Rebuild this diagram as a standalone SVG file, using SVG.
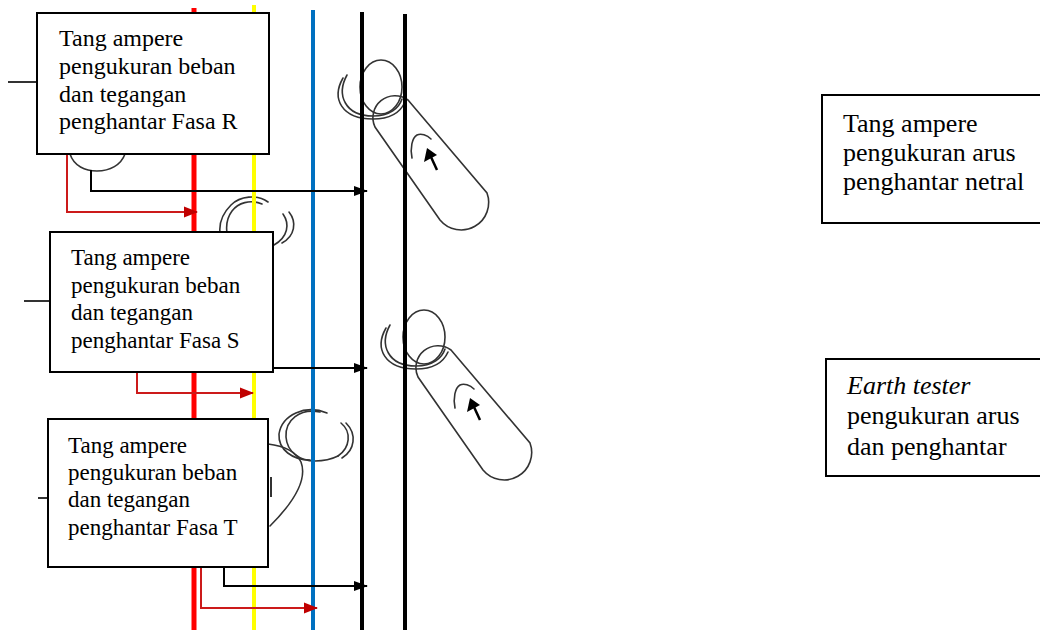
<svg xmlns="http://www.w3.org/2000/svg" xmlns:xlink="http://www.w3.org/1999/xlink" width="1040" height="630" viewBox="0 0 1040 630">
  <style>
    .box { fill: #ffffff; stroke: #000000; stroke-width: 2; }
    .lbl { font-family: "Liberation Serif", "Times New Roman", serif; font-size: 23px; fill: #000000; }
    .lbl-big { font-size: 24px; }
    .lbl-r { font-family: "Liberation Serif", "Times New Roman", serif; font-size: 26px; fill: #000000; }
    .stub { stroke: #333333; stroke-width: 2; fill: none; }
    .clamp { fill: none; stroke: #333333; stroke-width: 1.6; stroke-linecap: round; }
    .wire-red { stroke: #ff0000; stroke-width: 5; }
    .wire-yellow { stroke: #ffff00; stroke-width: 4; }
    .wire-blue { stroke: #0070c0; stroke-width: 4; }
    .wire-black { stroke: #000000; stroke-width: 4; }
    .conn-black { fill: none; stroke: #000000; stroke-width: 2; }
    .conn-red { fill: none; stroke: #cc1a1a; stroke-width: 2; }
  </style>
  <defs>
    <marker id="arrow-black" markerUnits="userSpaceOnUse" viewBox="0 0 14 12" markerWidth="14" markerHeight="12" refX="13" refY="6" orient="auto">
      <path d="M0,1 L14,6 L0,11 z" fill="#000000"/>
    </marker>
    <marker id="arrow-red" markerUnits="userSpaceOnUse" viewBox="0 0 14 12" markerWidth="14" markerHeight="12" refX="13" refY="6" orient="auto">
      <path d="M0,0.5 L14,6 L0,11.5 z" fill="#c00000"/>
    </marker>
    <!-- clamp meter on the neutral conductor: jaw ring, body and pointer -->
    <g id="neutral-meter">
      <ellipse class="clamp" cx="381" cy="87" rx="21" ry="27"/>
      <path class="clamp" d="M347,75 C336,95 345,116 373,116 C390,116 399,108 402,99"/>
      <path class="clamp" d="M343,78 C331,99 342,119 373,119 C392,119 401,111 405,102"/>
      <path class="clamp" d="M408,100 L487,193 A27.5,27.5 0 0 1 440,220 L375,127 A22,22 0 0 1 408,100 Z"/>
      <path class="clamp" d="M412,158 C410,148 412,138 417,135 C421,133 427,135 431,139"/>
      <path d="M427,148 L424,162 L437,155 Z" fill="#000000"/>
      <line x1="431" y1="157" x2="437" y2="170" stroke="#000000" stroke-width="2.5"/>
    </g>
  </defs>

  <rect width="1040" height="630" fill="#ffffff"/>

  <!-- clamp meters around the conductors -->
  <g id="clamps">
    <g id="clamp-r">
      <path class="clamp" d="M70,154 C74,166 85,171 97,171 C110,171 121,165 125,154"/>
    </g>
    <g id="clamp-s">
      <path class="clamp" d="M268,202 C257,194 240,196 231,205 C222,214 219,224 220,233"/>
      <path class="clamp" d="M262,204 C250,199 238,203 232,211 C226,219 226,226 227,233"/>
      <path class="clamp" d="M289,212 C297,222 295,236 282,243"/>
      <path class="clamp" d="M283,214 C290,224 288,237 274,245"/>
    </g>
    <g id="clamp-t">
      <path class="clamp" d="M327,413 C305,404 282,415 279,434 C278,450 293,460 310,460"/>
      <path class="clamp" d="M320,412 C300,408 285,420 286,437 C287,452 300,461 315,461 C324,461 332,459 338,456"/>
      <path class="clamp" d="M341,423 C352,432 350,448 338,456"/>
      <path class="clamp" d="M346,423 C357,434 355,450 342,458"/>
      <path class="clamp" d="M268,444 C285,446 296,452 301,462 C307,478 296,500 270,526"/>
      <line x1="271" y1="477" x2="271" y2="497" stroke="#333333" stroke-width="2"/>
    </g>
    <g id="clamp-n1">
      <use xlink:href="#neutral-meter"/>
    </g>
    <g id="clamp-n2">
      <use xlink:href="#neutral-meter" transform="translate(43,250)"/>
    </g>
  </g>

  <!-- conductors R, S, T, neutral and earth -->
  <g id="conductors">
    <line class="wire-red" x1="194" y1="8" x2="194" y2="630"/>
    <line class="wire-yellow" x1="254" y1="5" x2="254" y2="630"/>
    <line class="wire-blue" x1="313" y1="10" x2="313" y2="630"/>
    <line class="wire-black" x1="362" y1="12" x2="362" y2="630"/>
    <line class="wire-black" x1="405" y1="14" x2="405" y2="630"/>
  </g>

  <!-- measurement leads -->
  <g id="connectors">
    <path class="conn-black" d="M91,170 V191 H367" marker-end="url(#arrow-black)"/>
    <path class="conn-red" d="M67,154 V212 H197" marker-end="url(#arrow-red)"/>
    <path class="conn-black" d="M273,368 H367" marker-end="url(#arrow-black)"/>
    <path class="conn-red" d="M137,372 V393 H253" marker-end="url(#arrow-red)"/>
    <path class="conn-black" d="M224,567 V586 H367" marker-end="url(#arrow-black)"/>
    <path class="conn-red" d="M201,567 V608 H317" marker-end="url(#arrow-red)"/>
    <line class="stub" x1="8" y1="82" x2="37" y2="82"/>
    <line class="stub" x1="24" y1="301" x2="50" y2="301"/>
    <line class="stub" x1="38" y1="498" x2="48" y2="498"/>
  </g>

  <g id="label-r">
    <rect class="box" x="37" y="13" width="232" height="141"/>
    <text class="lbl lbl-big" x="59" y="46">Tang ampere</text>
    <text class="lbl lbl-big" x="59" y="74">pengukuran beban</text>
    <text class="lbl lbl-big" x="59" y="101.5">dan tegangan</text>
    <text class="lbl lbl-big" x="59" y="129">penghantar Fasa R</text>
  </g>

  <g id="label-s">
    <rect class="box" x="50" y="232" width="223" height="140"/>
    <text class="lbl" x="71" y="265">Tang ampere</text>
    <text class="lbl" x="71" y="292.5">pengukuran beban</text>
    <text class="lbl" x="71" y="320">dan tegangan</text>
    <text class="lbl" x="71" y="347.5">penghantar Fasa S</text>
  </g>

  <g id="label-t">
    <rect class="box" x="48" y="419" width="220" height="148"/>
    <text class="lbl" x="68" y="453">Tang ampere</text>
    <text class="lbl" x="68" y="480">pengukuran beban</text>
    <text class="lbl" x="68" y="507">dan tegangan</text>
    <text class="lbl" x="68" y="535">penghantar Fasa T</text>
  </g>

  <g id="label-neutral">
    <rect class="box" x="822" y="95" width="230" height="128"/>
    <text class="lbl-r" x="843" y="132">Tang ampere</text>
    <text class="lbl-r" x="843" y="161">pengukuran arus</text>
    <text class="lbl-r" x="843" y="190">penghantar netral</text>
  </g>

  <g id="label-earth">
    <rect class="box" x="826" y="359" width="230" height="117"/>
    <text class="lbl-r" x="847" y="394" font-style="italic">Earth tester</text>
    <text class="lbl-r" x="847" y="424">pengukuran arus</text>
    <text class="lbl-r" x="847" y="455">dan penghantar</text>
  </g>
</svg>
